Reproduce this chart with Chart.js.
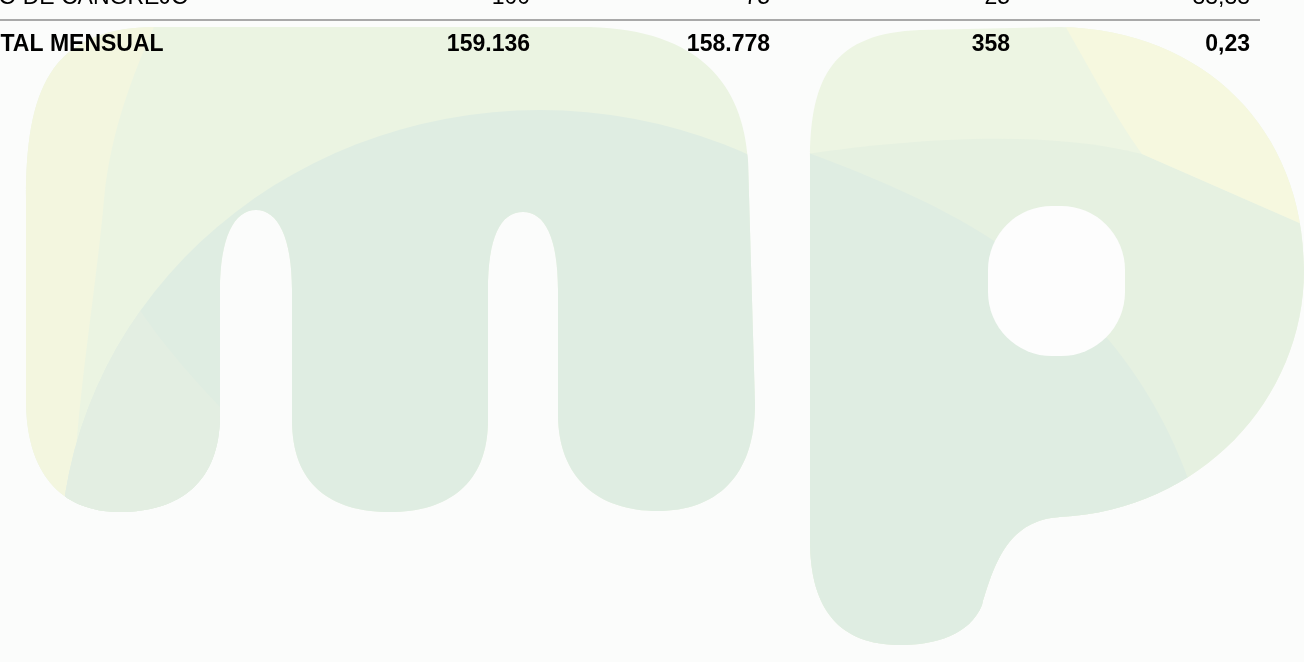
<!DOCTYPE html>
<html>
<head>
<meta charset="utf-8">
<title>Total mensual</title>
<script src="https://cdn.jsdelivr.net/npm/chart.js@4"></script>
<style>
  html, body { margin: 0; padding: 0; background: #fbfcfb; overflow: hidden; }
  #tabla { display: block; }
</style>
</head>
<body>
<canvas id="tabla" width="1304" height="662"></canvas>
<script>
// filas de la tabla (la de arriba viene cortada en la captura)
var filas = ["OJO DE CANGREJO", "TOTAL MENSUAL"];
var programado = [100, 159136];
var ejecutado = [75, 158778];
var diferencia = [25, 358];
var porcentaje = [33.33, 0.23];
var decimales = [0, 0, 0, 2];

var columnas = [programado, ejecutado, diferencia, porcentaje];

var verdeMedio = "#dfede2";
var verdeClaro = "#ebf4e2";
var verdeBanda = "#e6f1e1";
var amarillo = "#f3f6df";
var fondo = "#fbfcfb";

// 159136 -> "159.136", 33.33 -> "33,33"
function formato(v, dec) {
    var partes = v.toFixed(dec).split(".");
    var entero = partes[0].replace(/\B(?=(\d{3})+(?!\d))/g, ".");
    return partes[1] ? entero + "," + partes[1] : entero;
}

function trazoM(ctx) {
    ctx.beginPath();
    ctx.moveTo(26, 400);
    ctx.lineTo(26, 200);
    ctx.bezierCurveTo(26, 90, 50, 30, 150, 27);
    ctx.lineTo(590, 27);
    ctx.bezierCurveTo(700, 30, 743, 85, 748, 160);
    ctx.lineTo(755, 404);
    ctx.bezierCurveTo(755, 478, 715, 511, 658, 511);
    ctx.bezierCurveTo(598, 511, 558, 478, 558, 414);
    ctx.lineTo(558, 290);
    ctx.bezierCurveTo(558, 238, 545, 212, 523, 212);
    ctx.bezierCurveTo(500, 212, 488, 238, 488, 290);
    ctx.lineTo(488, 420);
    ctx.bezierCurveTo(488, 484, 448, 512, 390, 512);
    ctx.bezierCurveTo(330, 512, 292, 484, 292, 420);
    ctx.lineTo(292, 290);
    ctx.bezierCurveTo(292, 238, 278, 210, 256, 210);
    ctx.bezierCurveTo(234, 210, 220, 238, 220, 290);
    ctx.lineTo(220, 415);
    ctx.bezierCurveTo(220, 482, 180, 512, 120, 512);
    ctx.bezierCurveTo(60, 512, 26, 472, 26, 400);
    ctx.closePath();
}

function trazoP(ctx) {
    ctx.beginPath();
    ctx.moveTo(810, 540);
    ctx.lineTo(810, 160);
    ctx.bezierCurveTo(810, 75, 835, 33, 920, 30);
    ctx.lineTo(1060, 27);
    ctx.bezierCurveTo(1205, 30, 1304, 130, 1304, 270);
    ctx.bezierCurveTo(1304, 400, 1200, 510, 1060, 517);
    ctx.bezierCurveTo(1010, 520, 995, 560, 982, 605);
    ctx.bezierCurveTo(970, 635, 935, 645, 900, 645);
    ctx.bezierCurveTo(840, 645, 810, 610, 810, 540);
    ctx.closePath();
}

// logo de fondo, muy tenue
var marcaAgua = {
    id: "marcaAgua",
    beforeDraw: function (chart) {
        var ctx = chart.ctx;
        ctx.save();
        ctx.fillStyle = fondo;
        ctx.fillRect(0, 0, chart.width, chart.height);

        // m
        ctx.save();
        trazoM(ctx);
        ctx.fillStyle = verdeClaro;
        ctx.fill();
        ctx.clip();
        ctx.fillStyle = amarillo;
        ctx.beginPath();
        ctx.moveTo(0, 0);
        ctx.lineTo(165, 0);
        ctx.bezierCurveTo(150, 40, 112, 110, 104, 200);
        ctx.bezierCurveTo(95, 300, 76, 400, 72, 520);
        ctx.lineTo(0, 520);
        ctx.closePath();
        ctx.fill();
        ctx.beginPath();
        ctx.ellipse(540, 560, 480, 450, 0, 0, Math.PI * 2);
        ctx.fillStyle = verdeMedio;
        ctx.fill();
        ctx.clip();
        ctx.fillStyle = "#e3eee2";
        ctx.beginPath();
        ctx.moveTo(123, 283);
        ctx.bezierCurveTo(150, 330, 185, 370, 220, 407);
        ctx.lineTo(220, 520);
        ctx.lineTo(0, 520);
        ctx.lineTo(0, 283);
        ctx.closePath();
        ctx.fill();
        ctx.restore();

        // p
        ctx.save();
        trazoP(ctx);
        ctx.fillStyle = "#edf5e3";
        ctx.fill();
        ctx.clip();
        ctx.fillStyle = verdeBanda;
        ctx.beginPath();
        ctx.moveTo(800, 155);
        ctx.bezierCurveTo(900, 140, 1040, 128, 1142, 154);
        ctx.lineTo(1304, 225);
        ctx.lineTo(1304, 662);
        ctx.lineTo(800, 662);
        ctx.closePath();
        ctx.fill();
        ctx.fillStyle = "#f6f8df";
        ctx.beginPath();
        ctx.moveTo(1050, 0);
        ctx.bezierCurveTo(1080, 50, 1110, 110, 1142, 154);
        ctx.lineTo(1304, 225);
        ctx.lineTo(1304, 0);
        ctx.closePath();
        ctx.fill();
        ctx.fillStyle = verdeMedio;
        ctx.beginPath();
        ctx.moveTo(800, 150);
        ctx.bezierCurveTo(870, 175, 950, 210, 1000, 245);
        ctx.lineTo(1108, 339);
        ctx.bezierCurveTo(1150, 390, 1175, 440, 1192, 490);
        ctx.lineTo(1210, 662);
        ctx.lineTo(800, 662);
        ctx.closePath();
        ctx.fill();
        ctx.restore();

        // hueco de la p
        ctx.beginPath();
        ctx.roundRect(988, 206, 137, 150, 64);
        ctx.fillStyle = "#fdfdfd";
        ctx.fill();
        ctx.restore();
    }
};

var tabla = {
    id: "tabla",
    afterDatasetsDraw: function (chart) {
        var ctx = chart.ctx;
        var x = chart.scales.x;
        var y = chart.scales.y;
        ctx.save();
        ctx.textBaseline = "alphabetic";
        ctx.fillStyle = "#000";

        // linea entre la fila y el total
        var yLinea = Math.round(y.getPixelForValue(0.34));
        ctx.strokeStyle = "#a9a9a9";
        ctx.lineWidth = 2;
        ctx.beginPath();
        ctx.moveTo(chart.chartArea.left, yLinea);
        ctx.lineTo(x.getPixelForValue(columnas.length - 1) + 10, yLinea);
        ctx.stroke();

        filas.forEach(function (fila, r) {
            var total = r === filas.length - 1;
            ctx.font = (total ? "bold " : "") + "23px 'Liberation Sans', Arial, sans-serif";
            var yPix = y.getPixelForValue(r);
            ctx.textAlign = "left";
            ctx.fillText(fila, x.getPixelForValue(-2.3375), yPix);
            ctx.textAlign = "right";
            columnas.forEach(function (col, c) {
                var el = chart.getDatasetMeta(c).data[r];
                ctx.fillText(formato(col[r], decimales[c]), el.x, el.y);
            });
        });
        ctx.restore();
    }
};

new Chart("tabla", {
    type: "scatter",
    data: {
        datasets: columnas.map(function (col, c) {
            return {
                data: col.map(function (v, r) { return { x: c, y: r }; }),
                pointRadius: 0,
                pointHoverRadius: 0
            };
        })
    },
    options: {
        responsive: false,
        animation: false,
        events: [],
        layout: { padding: 0 },
        plugins: {
            legend: { display: false },
            tooltip: { enabled: false }
        },
        scales: {
            x: { type: "linear", display: false, min: -530 / 240, max: (1304 - 530) / 240 },
            y: { type: "linear", display: false, reverse: true, min: -4 / 47, max: (662 - 4) / 47 }
        }
    },
    plugins: [marcaAgua, tabla]
});
</script>
</body>
</html>
